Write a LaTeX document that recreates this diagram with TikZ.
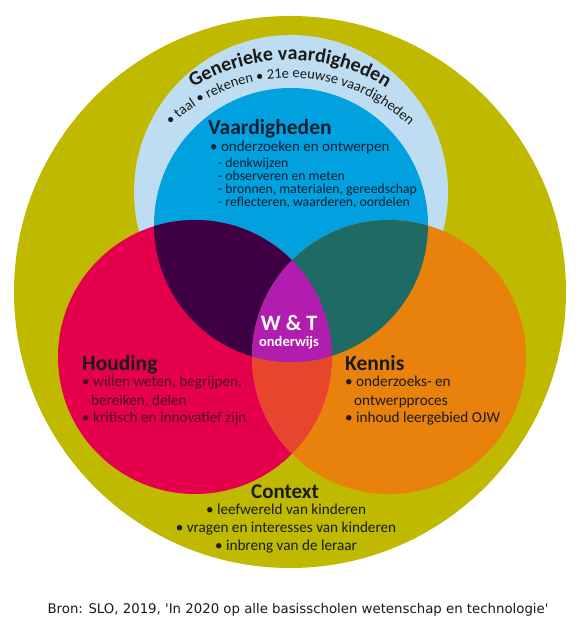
\documentclass[tikz,border=0pt]{standalone}
\usepackage{fontspec}
\setmainfont{Carlito}
\newfontfamily\bronfont{DejaVu Sans}
\usetikzlibrary{decorations.text}
\definecolor{ctxolive}{HTML}{BFB900}
\definecolor{genblue}{HTML}{BEDDF2}
\definecolor{skillblue}{HTML}{00A1DE}
\definecolor{attred}{HTML}{E5004D}
\definecolor{knoworange}{HTML}{E8820C}
\definecolor{rbpurple}{HTML}{3E0042}
\definecolor{boteal}{HTML}{1E6B66}
\definecolor{rored}{HTML}{E8452F}
\definecolor{wtmagenta}{HTML}{B11DAE}
\definecolor{ink}{HTML}{1A1A1A}
\definecolor{navyink}{HTML}{0B1F33}
\definecolor{maroonink}{HTML}{4E0A20}

\begin{document}
\begin{tikzpicture}[
  x=1pt, y=1pt,
  head/.style={font=\fontsize{21.5}{23}\selectfont\bfseries, text=ink, inner sep=0pt, anchor=base west},
  listitem/.style={font=\fontsize{15.2}{16}\selectfont, text=ink, inner sep=0pt, anchor=base west},
  subitem/.style={font=\fontsize{13.7}{14}\selectfont, text=navyink, inner sep=0pt, anchor=base west},
  ctxitem/.style={font=\fontsize{15.2}{16}\selectfont, text=ink, inner sep=0pt, anchor=base},
]

% Page
\fill[white] (0,0) rectangle (585,628);
\useasboundingbox (0,0) rectangle (585,628);

% Context (outer ring)
\fill[ctxolive] (290,336) circle[radius=276pt];

% Generieke vaardigheden
\fill[genblue] (291,436) circle[radius=157pt];

% Three circles
\fill[skillblue] (291,403) circle[radius=137pt];
\fill[attred] (195,271) circle[radius=137pt];
\fill[knoworange] (389,271) circle[radius=137pt];

% Overlaps
\begin{scope}
  \clip (195,271) circle[radius=137pt];
  \fill[rbpurple] (291,403) circle[radius=137pt];
  \fill[rored] (389,271) circle[radius=137pt];
\end{scope}
\begin{scope}
  \clip (389,271) circle[radius=137pt];
  \fill[boteal] (291,403) circle[radius=137pt];
  \clip (195,271) circle[radius=137pt];
  \fill[wtmagenta] (291,403) circle[radius=137pt];
\end{scope}

% Curved headings
\path[decorate, decoration={text along path, text align=center, text color=ink,
  text={|\fontsize{20}{20}\selectfont\bfseries|Generieke vaardigheden}}]
  ([shift={(160:180pt)}]290,388) arc[start angle=160, end angle=20, radius=180pt];
\path[decorate, decoration={text along path, text align=center, text color=ink,
  text={|\fontsize{14.5}{14.5}\selectfont|• taal • rekenen • 21e eeuwse vaardigheden}}]
  ([shift={(175:172pt)}]290,378) arc[start angle=175, end angle=5, radius=172pt];

% Vaardigheden
\node[head, text=navyink] (vtitle) at (208,493) {Vaardigheden};
\node[listitem, font=\fontsize{15}{16}\selectfont, text=navyink] (vitem) at (210,476.5) {• onderzoeken en ontwerpen};
\foreach \txt [count=\i] in {denkwijzen, observeren en meten, {bronnen, materialen, gereedschap}, {reflecteren, waarderen, oordelen}}
  \node[subitem] (vsub\i) at (218,{472.8-12.8*\i}) {- \txt};

% W & T onderwijs
\node[font=\fontsize{22}{23}\selectfont\bfseries, text=white, inner sep=0pt] (wt) at (289,305) {W \& T};
\node[font=\fontsize{14.5}{15}\selectfont\bfseries, text=white, inner sep=0pt] (wtsub) at (289,285) {onderwijs};

% Houding
\node[head] (htitle) at (82,257) {Houding};
\node[listitem, text=maroonink] (hitem1) at (82,241) {• willen weten, begrijpen,};
\node[listitem, text=maroonink] (hitem2) at (91,222) {bereiken, delen};
\node[listitem, text=maroonink] (hitem3) at (82,205) {• kritisch en innovatief zijn};

% Kennis
\node[head] (ktitle) at (345,257) {Kennis};
\node[listitem] (kitem1) at (345,241) {• onderzoeks- en};
\node[listitem] (kitem2) at (354,222) {ontwerpproces};
\node[listitem] (kitem3) at (345,205) {• inhoud leergebied OJW};

% Context
\node[head, font=\fontsize{21}{23}\selectfont\bfseries, anchor=base] (ctitle) at (285,129.5) {Context};
\node[ctxitem] (citem1) at (286,113.5) {• leefwereld van kinderen};
\node[ctxitem] (citem2) at (286,95.5) {• vragen en interesses van kinderen};
\node[ctxitem] (citem3) at (286,77.5) {• inbreng van de leraar};

% Source line
\node[font=\bronfont\fontsize{13.3}{14}\selectfont, text=ink, inner sep=0pt] (bron) at (298,18)
  {Bron: SLO, 2019, 'In 2020 op alle basisscholen wetenschap en technologie'};

\end{tikzpicture}
\end{document}
